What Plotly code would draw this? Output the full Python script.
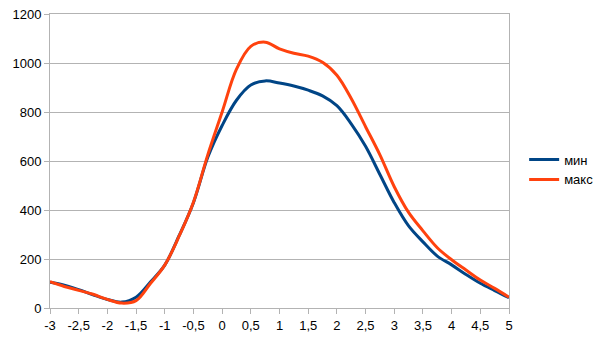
import plotly.graph_objects as go

# Sample positions along the x axis
x_vals = [-3, -2.75, -2.5, -2.25, -2, -1.75, -1.5, -1.25, -1, -0.75, -0.5, -0.25,
          0, 0.25, 0.5, 0.75, 1, 1.25, 1.5, 1.75, 2, 2.25, 2.5, 2.75,
          3, 3.25, 3.5, 3.75, 4, 4.25, 4.5, 4.75, 5]

# Series values
min_vals = [105, 93, 75, 54, 35, 24, 44, 106, 175, 295, 430, 615,
            745, 848, 910, 927, 918, 906, 889, 866, 826, 752, 660, 545,
            430, 335, 270, 212, 176, 137, 101, 71, 42]
max_vals = [107, 88, 72, 56, 35, 20, 30, 100, 175, 293, 432, 625,
            800, 975, 1068, 1085, 1058, 1040, 1028, 1003, 950, 855, 740, 625,
            495, 390, 315, 246, 197, 155, 114, 80, 44]

# Axis ticks
x_ticks = [-3, -2.5, -2, -1.5, -1, -0.5, 0, 0.5, 1, 1.5, 2, 2.5, 3, 3.5, 4, 4.5, 5]
x_tick_text = [f"{v:g}".replace(".", ",") for v in x_ticks]
y_ticks = [0, 200, 400, 600, 800, 1000, 1200]

fig = go.Figure()
fig.add_trace(go.Scatter(x=x_vals, y=min_vals, name="мин", mode="lines",
                         line=dict(color="#004586", width=3, shape="spline", smoothing=1)))
fig.add_trace(go.Scatter(x=x_vals, y=max_vals, name="макс", mode="lines",
                         line=dict(color="#ff420e", width=3, shape="spline", smoothing=1)))

axis_font = dict(family="Liberation Sans, Arial, sans-serif", size=13, color="#000000")

fig.update_layout(
    width=604, height=340,
    margin=dict(l=50, r=95, t=14, b=32, autoexpand=False),
    paper_bgcolor="white", plot_bgcolor="white",
    font=axis_font,
    showlegend=True,
    legend=dict(x=1.033, y=0.471, xanchor="left", yanchor="middle",
                font=dict(family="Liberation Sans, Arial, sans-serif", size=13, color="#000000"),
                itemwidth=30, tracegroupgap=0, bgcolor="rgba(0,0,0,0)"),
    xaxis=dict(range=[-3, 5], tickvals=x_ticks, ticktext=x_tick_text,
               showgrid=False, zeroline=False, automargin=False,
               showline=True, linecolor="#b3b3b3", linewidth=1, mirror=True,
               ticks="outside", ticklen=5, tickcolor="#b3b3b3", tickfont=axis_font),
    yaxis=dict(range=[0, 1200], tickvals=y_ticks, automargin=False,
               showgrid=True, gridcolor="#b3b3b3", gridwidth=1, zeroline=False,
               showline=True, linecolor="#b3b3b3", linewidth=1, mirror=True,
               ticks="outside", ticklen=5, tickcolor="#b3b3b3", tickfont=axis_font),
)

fig.write_html("out.html")
